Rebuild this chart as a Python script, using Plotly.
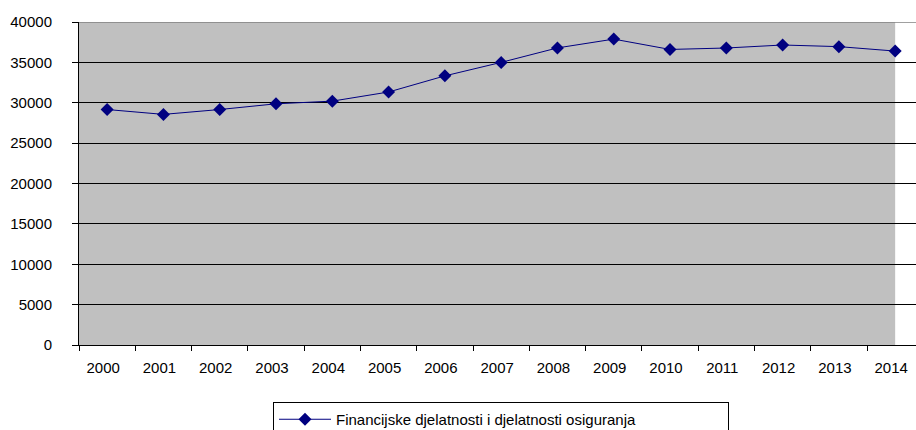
import plotly.graph_objects as go

years = ["2000", "2001", "2002", "2003", "2004", "2005", "2006", "2007",
         "2008", "2009", "2010", "2011", "2012", "2013", "2014"]
values = [29160, 28560, 29160, 29870, 30200, 31330, 33330, 35000,
          36790, 37880, 36600, 36780, 37150, 36950, 36400]
series_name = "Financijske djelatnosti i djelatnosti osiguranja"
y_ticks = [0, 5000, 10000, 15000, 20000, 25000, 30000, 35000, 40000]

FONT = "Liberation Sans, Arial, sans-serif"

fig = go.Figure()
fig.add_trace(go.Scatter(
    x=years, y=values, name=series_name, mode="lines+markers",
    line=dict(color="#000080", width=1),
    marker=dict(symbol="diamond", size=10, color="#000080"),
    showlegend=True,
))

fig.add_shape(type="rect", xref="x", yref="y", x0=-0.5, x1=14, y0=0, y1=40000,
              fillcolor="#C0C0C0", line=dict(width=0), layer="below")
fig.add_shape(type="line", xref="paper", yref="y", x0=0, x1=1, y0=40000, y1=40000,
              line=dict(color="#808080", width=1.5), layer="above")

fig.update_layout(
    width=916, height=430,
    margin=dict(l=79, r=0, t=22, b=85, autoexpand=False),
    paper_bgcolor="white", plot_bgcolor="white",
    font=dict(family=FONT, size=15, color="#000"),
    legend=dict(
        orientation="h", x=(273 - 79) / 837, xanchor="left", y=-(402 - 345) / 323, yanchor="top",
        bordercolor="#000", borderwidth=1, bgcolor="white",
        font=dict(family=FONT, size=15, color="#000"),
        itemwidth=52, entrywidth=387,
    ),
    xaxis=dict(
        type="category", range=[-0.5, 14.37], tickson="boundaries",
        ticks="outside", ticklen=5, tickcolor="#000",
        showgrid=False, showline=True, linecolor="#000", linewidth=1,
        ticklabelshift=-4, ticklabelstandoff=9, automargin=False,
        tickfont=dict(family=FONT, size=15, color="#000"),
    ),
    yaxis=dict(
        range=[0, 40000], tickvals=y_ticks, ticktext=[str(v) for v in y_ticks],
        ticks="outside", ticklen=6, tickcolor="#000",
        showgrid=True, gridcolor="#000", gridwidth=1, zeroline=False,
        showline=True, linecolor="#000", linewidth=1,
        ticklabelstandoff=17, automargin=False,
        tickfont=dict(family=FONT, size=15, color="#000"),
    ),
)

fig.write_html("out.html", config={"displayModeBar": False},
               post_script="document.body.style.margin='0';document.body.style.overflow='hidden';")
